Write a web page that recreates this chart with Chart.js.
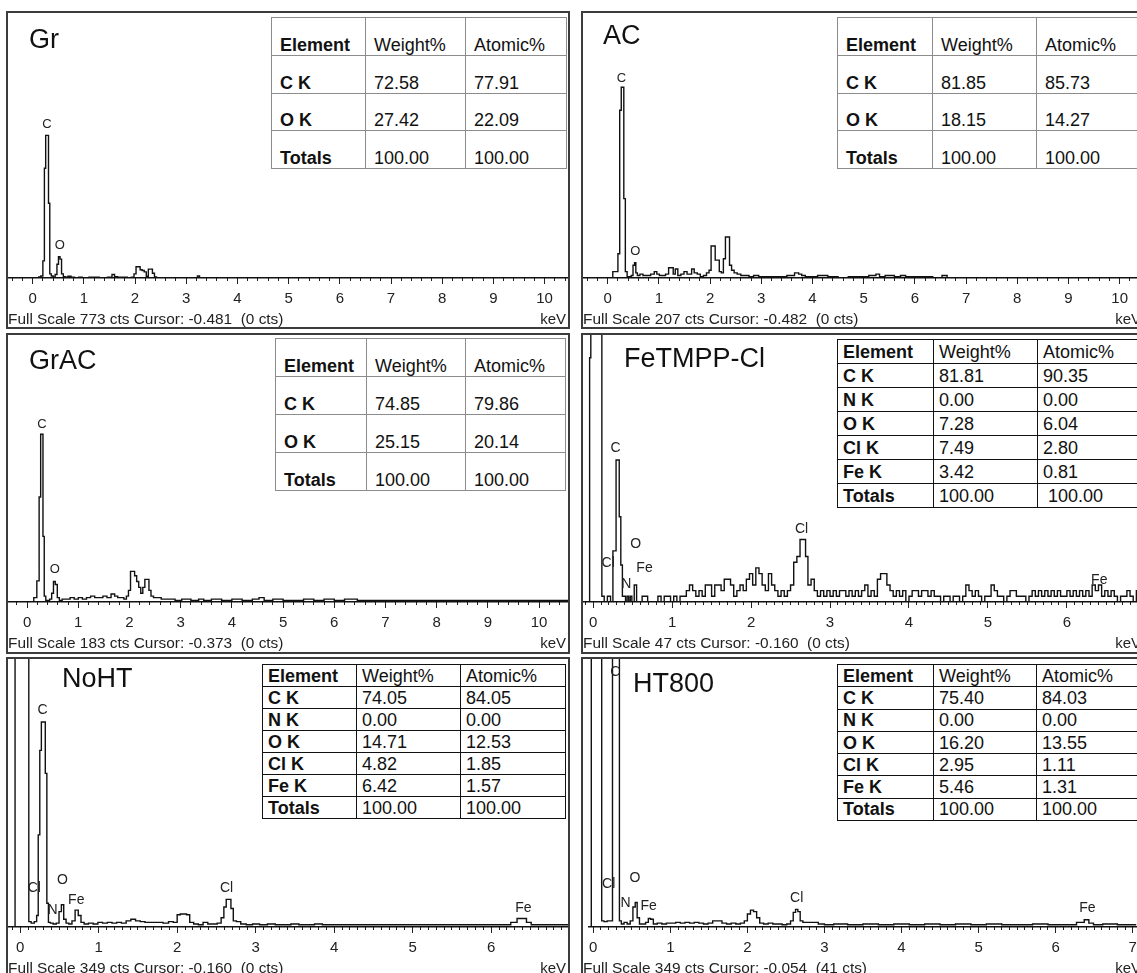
<!DOCTYPE html>
<html>
<head>
<meta charset="utf-8">
<script src="https://cdn.jsdelivr.net/npm/chart.js@4.4.1/dist/chart.umd.min.js"></script>
<style>
  html, body { margin: 0; padding: 0; background: #fff; }
  body { width: 1137px; height: 973px; overflow: hidden; position: relative; font-family: "Liberation Sans", Arial, sans-serif; color: #111; }
  .panel { position: absolute; border: 2px solid #3c3c3c; box-sizing: border-box; background: #fff; overflow: hidden; }
  .panel canvas { position: absolute; left: 0; top: 0; }
  .name { position: absolute; font-size: 27px; line-height: 30px; white-space: nowrap; }
  .foot { position: absolute; left: 0; font-size: 15.4px; line-height: 16px; white-space: pre; color: #222; }
  .kev { position: absolute; right: 2px; font-size: 15px; line-height: 16px; color: #222; }
  table.eds { position: absolute; border-collapse: collapse; table-layout: fixed; font-size: 18px; z-index: 2; background: #fff; }
  table.eds td { white-space: pre; overflow: hidden; padding: 0; }
  table.soft td { border: 1px solid #8c8c8c; vertical-align: bottom; padding: 0 0 1px 8px; line-height: 18px; }
  table.hard td { border: 1.5px solid #111; vertical-align: middle; padding: 0 0 0 5px; line-height: 20px; }
  table.eds td.b { font-weight: bold; }
</style>
</head>
<body>
<script>
// sample names, full scale (cts) and cursor readout of each spectrum
const sampleNames = ['Gr', 'AC', 'GrAC', 'FeTMPP-Cl', 'NoHT', 'HT800'];
const fullScale = [773, 207, 183, 47, 349, 349];
const cursorKeV = ['-0.481', '-0.482', '-0.373', '-0.160', '-0.160', '-0.054'];
const cursorCts = [0, 0, 0, 0, 0, 41];

// spectra: [energy keV, counts]
const grSpectrum = [[-0.48,0],[0.10,0],[0.14,3],[0.18,6],[0.22,50],[0.24,320],[0.27,416],[0.30,416],[0.32,218],[0.35,12],[0.38,6],[0.42,3],[0.46,10],[0.49,40],[0.52,62],[0.55,55],[0.58,12],[0.62,4],[0.66,2],[0.72,5],[0.78,2],[0.86,1],[0.94,2],[1.00,1],[1.20,2],[1.40,1],[1.52,2],[1.58,10],[1.62,4],[1.70,2],[1.80,2],[1.90,0],[1.96,2],[2.00,12],[2.04,33],[2.08,33],[2.12,24],[2.16,22],[2.20,18],[2.24,5],[2.28,26],[2.32,26],[2.36,14],[2.40,3],[2.44,0],[3.20,0],[3.24,6],[3.28,0],[10.5,0]];

const acSpectrum = [[-0.49,0],[0.08,0],[0.12,5],[0.18,5],[0.22,19],[0.25,131],[0.28,149],[0.30,149],[0.33,62],[0.36,5],[0.40,1],[0.44,1],[0.48,2],[0.51,10],[0.54,12],[0.56,4],[0.60,2],[0.66,3],[0.72,2],[0.80,2],[0.88,3],[0.94,5],[0.98,3],[1.04,2],[1.10,2],[1.16,3],[1.22,8],[1.26,8],[1.30,3],[1.34,7],[1.40,2],[1.46,3],[1.52,5],[1.58,3],[1.62,3],[1.66,7],[1.72,4],[1.78,3],[1.84,1],[1.90,2],[1.96,4],[2.00,6],[2.04,25],[2.08,25],[2.12,14],[2.16,14],[2.20,5],[2.24,4],[2.28,15],[2.32,32],[2.36,32],[2.40,10],[2.44,6],[2.50,4],[2.56,3],[2.64,2],[2.72,2],[2.80,1],[2.90,2],[3.00,1],[3.20,1],[3.40,1],[3.60,2],[3.70,4],[3.76,3],[3.82,2],[3.90,1],[4.00,1],[4.20,2],[4.40,1],[4.60,0],[4.80,1],[5.00,1],[5.20,2],[5.28,3],[5.34,1],[5.50,2],[5.70,1],[5.74,2],[5.90,1],[6.20,1],[6.50,0],[6.56,2],[6.70,0],[10.5,0]];

const grAcSpectrum = [[-0.37,0],[0.10,0],[0.16,3],[0.22,14.5],[0.25,72],[0.28,115],[0.30,115],[0.32,45],[0.35,4],[0.38,1],[0.42,1],[0.46,2],[0.50,6],[0.53,14],[0.57,12],[0.61,3],[0.65,1],[0.72,2],[0.80,2],[0.88,3],[0.96,2],[1.04,3],[1.12,2],[1.20,3],[1.28,4],[1.36,3],[1.44,3],[1.52,4],[1.60,3],[1.68,5.5],[1.74,4],[1.80,3],[1.86,3],[1.92,2],[1.96,4],[2.00,8],[2.04,21],[2.08,21],[2.12,18],[2.16,14],[2.20,10],[2.24,6],[2.28,10],[2.32,15.5],[2.36,15.5],[2.40,8],[2.44,4],[2.50,3],[2.58,3],[2.66,2],[2.74,2],[2.84,2],[2.94,1],[3.10,2],[3.30,1],[3.40,2],[3.50,1],[3.70,2],[3.90,1],[4.10,2],[4.30,1],[4.50,2],[4.56,3],[4.70,1],[4.90,2],[5.10,1],[5.30,1],[5.50,2],[5.70,1],[5.90,2],[6.10,1],[6.30,2],[6.60,1],[7.00,1],[7.40,1],[7.80,1],[8.20,1],[8.60,1],[9.00,1],[9.40,1],[9.80,1],[10.6,1]];

const feTmppSpectrum = [[-0.13,0],[-0.05,0],[-0.04,43],[-0.02,300],[0.10,300],[0.12,1],[0.16,0],[0.20,1],[0.24,0],[0.26,9],[0.28,9],[0.30,25],[0.32,25],[0.34,15],[0.36,6.5],[0.38,1],[0.40,1],[0.42,0],[0.44,1],[0.46,0],[0.48,1],[0.50,0],[0.54,3],[0.56,0],[0.60,0],[0.64,1],[0.68,1],[0.70,0],[0.76,0],[0.80,0],[0.84,1],[0.88,0],[0.92,1],[0.96,1],[1.00,0],[1.04,1],[1.08,0],[1.12,1],[1.16,1],[1.20,2],[1.24,3],[1.28,2],[1.32,1],[1.36,2],[1.40,1],[1.44,3],[1.48,3],[1.52,1],[1.56,3],[1.60,3],[1.64,2],[1.68,4],[1.72,4],[1.76,3],[1.80,1],[1.84,2],[1.88,3],[1.92,2],[1.96,4],[2.00,5],[2.04,3],[2.08,6],[2.12,5],[2.16,3],[2.20,2],[2.24,5],[2.28,3],[2.32,2],[2.36,1],[2.40,2],[2.44,1],[2.48,2],[2.52,3],[2.56,7],[2.60,8],[2.64,11],[2.68,11],[2.70,8],[2.74,3],[2.78,4],[2.82,2],[2.86,1],[2.90,2],[2.94,1],[2.98,2],[3.02,1],[3.06,2],[3.10,1],[3.14,2],[3.18,2],[3.22,1],[3.26,2],[3.30,1],[3.34,2],[3.38,1],[3.42,2],[3.46,3],[3.50,1],[3.54,2],[3.58,1],[3.62,4],[3.66,5],[3.70,5],[3.74,3],[3.78,2],[3.82,1],[3.86,2],[3.90,1],[3.94,2],[3.98,0],[4.02,1],[4.06,2],[4.10,2],[4.14,1],[4.18,2],[4.22,2],[4.26,1],[4.30,2],[4.34,1],[4.38,1],[4.42,0],[4.46,1],[4.50,1],[4.54,0],[4.58,1],[4.62,1],[4.66,0],[4.70,1],[4.74,3],[4.78,2],[4.82,1],[4.86,2],[4.90,1],[4.94,0],[4.98,1],[5.02,1],[5.06,3],[5.10,2],[5.14,1],[5.18,1],[5.22,0],[5.26,1],[5.30,2],[5.34,2],[5.38,1],[5.42,1],[5.46,1],[5.50,0],[5.54,1],[5.58,2],[5.62,1],[5.66,2],[5.70,1],[5.74,2],[5.78,1],[5.82,2],[5.86,1],[5.90,2],[5.94,1],[5.98,1],[6.02,2],[6.06,1],[6.10,2],[6.14,1],[6.18,2],[6.22,1],[6.26,2],[6.30,1],[6.34,3],[6.38,2],[6.42,3],[6.46,1],[6.50,2],[6.54,1],[6.58,2],[6.62,1],[6.66,0],[6.70,1],[6.74,1],[6.78,2],[6.82,1],[6.86,0],[6.90,2],[6.94,1],[6.98,2]];

const noHtSpectrum = [[-0.16,0],[-0.07,0],[-0.06,1200],[0.10,1200],[0.12,7],[0.16,5],[0.20,7],[0.22,15],[0.24,120],[0.26,230],[0.28,267],[0.31,267],[0.33,200],[0.35,31],[0.37,6],[0.40,5],[0.44,4],[0.48,5],[0.51,20],[0.54,29],[0.57,10],[0.60,5],[0.64,4],[0.68,8],[0.72,22],[0.76,15],[0.79,6],[0.84,4],[0.90,5],[0.96,4],[1.02,6],[1.08,5],[1.14,6],[1.20,5],[1.26,6],[1.32,5],[1.38,8],[1.44,10],[1.50,8],[1.56,7],[1.62,6],[1.70,6],[1.78,6],[1.86,5],[1.92,7],[1.98,6],[2.02,16],[2.06,17],[2.10,17],[2.14,16],[2.18,6],[2.24,4],[2.30,3],[2.36,6],[2.42,4],[2.48,4],[2.54,5],[2.58,12],[2.61,26],[2.64,36],[2.67,36],[2.70,24],[2.73,8],[2.78,7],[2.84,4],[2.92,3],[3.00,4],[3.10,3],[3.20,4],[3.30,3],[3.40,3],[3.50,4],[3.60,3],[3.70,3],[3.80,4],[3.90,3],[4.00,3],[4.20,3],[4.40,3],[4.60,3],[4.80,3],[5.00,3],[5.20,3],[5.40,3],[5.60,3],[5.80,3],[6.00,3],[6.20,3],[6.30,6],[6.36,11],[6.42,11],[6.48,6],[6.54,3],[6.70,3],[7.0,3]];

const ht800Spectrum = [[-0.06,0],[-0.03,0],[-0.02,1200],[0.10,1200],[0.12,8],[0.16,7],[0.20,8],[0.24,8],[0.26,1200],[0.33,1200],[0.35,8],[0.38,4],[0.42,6],[0.46,4],[0.50,8],[0.53,26],[0.56,32],[0.58,12],[0.62,4],[0.66,4],[0.70,6],[0.73,11],[0.76,10],[0.80,4],[0.86,5],[0.92,4],[0.98,5],[1.04,5],[1.10,6],[1.16,5],[1.22,6],[1.28,5],[1.34,6],[1.40,5],[1.46,4],[1.52,5],[1.58,8],[1.64,8],[1.70,5],[1.76,4],[1.82,5],[1.88,4],[1.94,5],[1.98,8],[2.02,17],[2.06,22],[2.10,20],[2.14,12],[2.18,5],[2.24,4],[2.30,5],[2.36,4],[2.42,4],[2.48,3],[2.54,4],[2.58,8],[2.61,19],[2.64,23],[2.67,20],[2.70,8],[2.74,6],[2.80,6],[2.88,6],[2.96,4],[3.04,3],[3.20,4],[3.40,3],[3.60,4],[3.80,3],[4.00,4],[4.20,3],[4.40,4],[4.60,3],[4.80,4],[5.00,3],[5.20,4],[5.40,3],[5.60,3],[5.80,4],[6.00,3],[6.20,3],[6.34,6],[6.40,9.5],[6.46,5],[6.52,3],[6.70,4],[6.90,3],[7.1,3]];

// peak labels: [text, keV, counts]
const grLabels = [['C',0.28,447],['O',0.53,94]];
const acLabels = [['C',0.27,156],['O',0.54,20.5]];
const grAcLabels = [['C',0.29,122],['O',0.54,22.5]];
const feTmppLabels = [['C',0.285,27],['Cl',0.19,6.9],['N',0.42,3.2],['O',0.54,10.1],['Fe',0.65,6.0],['Cl',2.64,12.9],['Fe',6.41,3.9]];
const noHtLabels = [['C',0.284,282],['Cl',0.18,51],['N',0.414,22],['O',0.54,61],['Fe',0.715,35],['Cl',2.63,51],['Fe',6.41,25]];
const ht800Labels = [['C',0.285,332],['Cl',0.20,56],['N',0.42,31],['O',0.54,63],['Fe',0.72,27],['Cl',2.64,37],['Fe',6.41,24]];

// quantification tables
const tableHead = ['Element', 'Weight%', 'Atomic%'];
const grRows = [['C K','72.58','77.91'],['O K','27.42','22.09'],['Totals','100.00','100.00']];
const acRows = [['C K','81.85','85.73'],['O K','18.15','14.27'],['Totals','100.00','100.00']];
const grAcRows = [['C K','74.85','79.86'],['O K','25.15','20.14'],['Totals','100.00','100.00']];
const feTmppRows = [['C K','81.81','90.35'],['N K','0.00','0.00'],['O K','7.28','6.04'],['Cl K','7.49','2.80'],['Fe K','3.42','0.81'],['Totals','100.00',' 100.00']];
const noHtRows = [['C K','74.05','84.05'],['N K','0.00','0.00'],['O K','14.71','12.53'],['Cl K','4.82','1.85'],['Fe K','6.42','1.57'],['Totals','100.00','100.00']];
const ht800Rows = [['C K','75.40','84.03'],['N K','0.00','0.00'],['O K','16.20','13.55'],['Cl K','2.95','1.11'],['Fe K','5.46','1.31'],['Totals','100.00','100.00']];

const FONT = '"Liberation Sans", Arial, sans-serif';

const panels = [
  { spec: grSpectrum, labels: grLabels, rows: grRows, left: 6, top: 11, h: 318, base: 265, xMin: -0.481, xMax: 10.457, minor: 0.2, nameX: 21, nameY: 11, lbl: 13,
    tb: { x: 271, y: 17, cols: [94, 100, 101], rowH: 37.75, style: 'soft' } },
  { spec: acSpectrum, labels: acLabels, rows: acRows, left: 581, top: 11, h: 318, base: 265, xMin: -0.482, xMax: 10.456, minor: 0.2, nameX: 20, nameY: 7, lbl: 13,
    tb: { x: 837, y: 17, cols: [95, 104, 105], rowH: 37.75, style: 'soft' } },
  { spec: grAcSpectrum, labels: grAcLabels, rows: grAcRows, left: 6, top: 333, h: 321, base: 267, xMin: -0.373, xMax: 10.565, minor: 0.2, nameX: 21, nameY: 10, lbl: 13,
    tb: { x: 275, y: 338, cols: [91, 99, 100], rowH: 38, style: 'soft' } },
  { spec: feTmppSpectrum, labels: feTmppLabels, rows: feTmppRows, left: 581, top: 333, h: 321, base: 267, xMin: -0.125, xMax: 6.964, minor: 0.1, nameX: 41, nameY: 8, lbl: 14,
    tb: { x: 837, y: 339, cols: [96, 104, 105], rowH: 24, style: 'hard' } },
  { spec: noHtSpectrum, labels: noHtLabels, rows: noHtRows, left: 6, top: 657, h: 322, base: 268, xMin: -0.155, xMax: 6.979, minor: 0.1, nameX: 54, nameY: 4, lbl: 14,
    tb: { x: 262, y: 664, cols: [94, 104, 105], rowH: 22, style: 'hard' } },
  { spec: ht800Spectrum, labels: ht800Labels, rows: ht800Rows, left: 581, top: 657, h: 322, base: 268, xMin: -0.054, xMax: 7.044, minor: 0.1, nameX: 50, nameY: 9, lbl: 14,
    tb: { x: 837, y: 664, cols: [96, 103, 106], rowH: 22.3, style: 'hard' } }
];

// element markers above the peaks, placed through the chart scales
const peakLabels = {
  id: 'peakLabels',
  afterDatasetsDraw(chart, args, opts) {
    const { ctx, scales: { x, y } } = chart;
    ctx.save();
    ctx.font = opts.size + 'px ' + FONT;
    ctx.fillStyle = '#222';
    ctx.textAlign = 'center';
    ctx.textBaseline = 'middle';
    opts.items.forEach(([t, kev, cts]) => ctx.fillText(t, x.getPixelForValue(kev), y.getPixelForValue(cts)));
    ctx.restore();
  }
};

function buildTable(p) {
  const t = document.createElement('table');
  t.className = 'eds ' + p.tb.style;
  const total = p.tb.cols.reduce((a, b) => a + b, 0);
  t.style.left = p.tb.x + 'px';
  t.style.top = p.tb.y + 'px';
  t.style.width = total + 'px';
  const cg = document.createElement('colgroup');
  p.tb.cols.forEach(w => { const c = document.createElement('col'); c.style.width = w + 'px'; cg.appendChild(c); });
  t.appendChild(cg);
  [tableHead].concat(p.rows).forEach(r => {
    const tr = document.createElement('tr');
    tr.style.height = p.tb.rowH + 'px';
    r.forEach((v, i) => {
      const td = document.createElement('td');
      td.textContent = v;
      if (i === 0) td.className = 'b';
      tr.appendChild(td);
    });
    t.appendChild(tr);
  });
  document.body.appendChild(t);
}

panels.forEach((p, i) => {
  const W = 560, H = p.h - 4;
  const div = document.createElement('div');
  div.className = 'panel';
  Object.assign(div.style, { left: p.left + 'px', top: p.top + 'px', width: '564px', height: p.h + 'px' });
  const cv = document.createElement('canvas');
  cv.width = W; cv.height = H;
  cv.style.width = W + 'px'; cv.style.height = H + 'px';
  div.appendChild(cv);

  const name = document.createElement('div');
  name.className = 'name';
  name.textContent = sampleNames[i];
  name.style.left = p.nameX + 'px';
  name.style.top = p.nameY + 'px';
  div.appendChild(name);

  const foot = document.createElement('div');
  foot.className = 'foot';
  foot.textContent = 'Full Scale ' + fullScale[i] + ' cts Cursor: ' + cursorKeV[i] + '  (' + cursorCts[i] + ' cts)';
  foot.style.top = (p.base + 33) + 'px';
  div.appendChild(foot);

  const kev = document.createElement('div');
  kev.className = 'kev';
  kev.textContent = 'keV';
  kev.style.top = (p.base + 33) + 'px';
  div.appendChild(kev);

  document.body.appendChild(div);
  buildTable(p);

  new Chart(cv, {
    type: 'line',
    data: {
      datasets: [{
        data: p.spec.map(d => ({ x: d[0], y: d[1] })),
        xAxisID: 'x', yAxisID: 'y',
        borderColor: '#111', borderWidth: 1.4,
        pointRadius: 0, stepped: 'middle', fill: false
      }]
    },
    options: {
      responsive: false, animation: false, devicePixelRatio: 1,
      layout: { padding: 0 },
      plugins: {
        legend: { display: false }, tooltip: { enabled: false },
        peakLabels: { items: p.labels, size: p.lbl }
      },
      scales: {
        xMinor: {
          type: 'linear', position: 'bottom', weight: 0, min: p.xMin, max: p.xMax,
          ticks: { stepSize: p.minor, display: false, autoSkip: false, includeBounds: false },
          grid: { drawOnChartArea: false, tickLength: 3, tickColor: '#222', tickWidth: 1 },
          border: { display: false },
          afterFit: s => { s.height = 0; }
        },
        x: {
          type: 'linear', position: 'bottom', weight: 1, min: p.xMin, max: p.xMax,
          ticks: { stepSize: 1, autoSkip: false, includeBounds: false, padding: 6, maxRotation: 0,
                   color: '#222', font: { family: FONT, size: 15 },
                   callback: v => Number.isInteger(v) ? String(v) : '' },
          grid: { drawOnChartArea: false, tickLength: 6, tickColor: '#222', tickWidth: 1 },
          border: { display: true, color: '#111', width: 1.5 },
          afterFit: s => { s.height = H - p.base; }
        },
        y: { display: false, min: 0, max: fullScale[i] }
      }
    },
    plugins: [peakLabels]
  });
});
</script>
</body>
</html>
